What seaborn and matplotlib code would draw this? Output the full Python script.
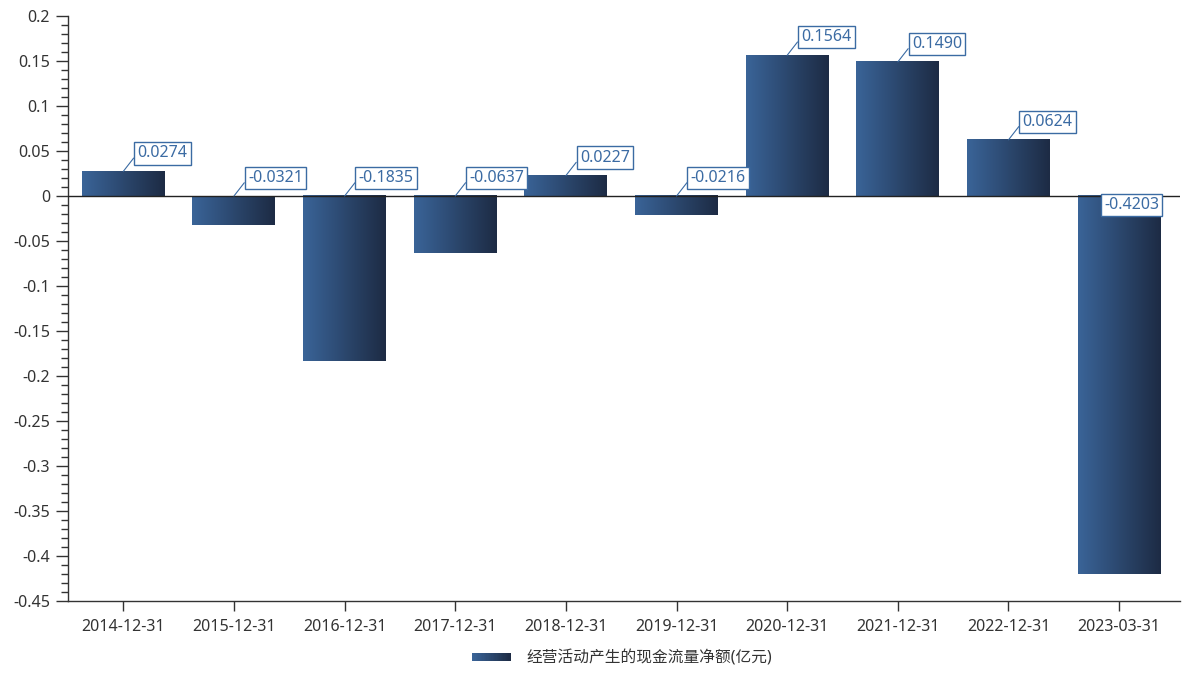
import numpy as np
import pandas as pd
import matplotlib
matplotlib.use("Agg")
import matplotlib.pyplot as plt
import seaborn as sns
from matplotlib.colors import LinearSegmentedColormap
from matplotlib.legend_handler import HandlerBase
from matplotlib.patches import Rectangle, Patch
from matplotlib.ticker import MultipleLocator

dates = ["2014-12-31", "2015-12-31", "2016-12-31", "2017-12-31", "2018-12-31",
         "2019-12-31", "2020-12-31", "2021-12-31", "2022-12-31", "2023-03-31"]
values = [0.0274, -0.0321, -0.1835, -0.0637, 0.0227, -0.0216, 0.1564, 0.1490, 0.0624, -0.4203]
series_name = "经营活动产生的现金流量净额(亿元)"

sns.set_theme(style="white")
plt.rcParams["font.family"] = ["Noto Sans", "Noto Sans CJK SC", "DejaVu Sans"]

LEFT_C = "#3a6498"
RIGHT_C = "#1d2b44"
LABEL_C = "#3b6ba3"
grad = LinearSegmentedColormap.from_list("bar_grad", [LEFT_C, RIGHT_C])

df = pd.DataFrame({"date": dates, "value": values})

fig = plt.figure(figsize=(12.01, 6.78), dpi=100)
ax = fig.add_axes([68 / 1201, 1 - 601 / 678, (1180 - 68) / 1201, (601 - 16) / 678])

sns.barplot(data=df, x="date", y="value", width=0.75, color=LEFT_C, ax=ax)

# replace flat bars with left->right gradient
g = np.linspace(0, 1, 256).reshape(1, -1)
for p in ax.patches:
    x0, y0 = p.get_x(), p.get_y()
    w, h = p.get_width(), p.get_height()
    p.set_visible(False)
    ax.imshow(g, cmap=grad, aspect="auto", extent=(x0, x0 + w, min(y0, y0 + h), max(y0, y0 + h)),
              zorder=2, interpolation="bilinear")

ax.set_xlim(-0.5, len(dates) - 0.45)
ax.set_ylim(-0.45, 0.2)
ax.axhline(0, color="#222222", lw=1, zorder=3)

yt = np.round(np.arange(-0.45, 0.2001, 0.05), 2)
ax.yaxis.set_minor_locator(MultipleLocator(0.01))
ax.set_yticks(yt)
ax.set_yticklabels([("%g" % v) if abs(v) > 1e-9 else "0" for v in yt])
ax.tick_params(axis="y", which="major", length=9, width=1, color="#333333", left=True,
               labelsize=11.5, labelcolor="#333333", pad=4)
ax.tick_params(axis="y", which="minor", length=5, width=1, color="#333333", left=True)
ax.tick_params(axis="x", which="major", length=7, width=1, color="#333333", bottom=True,
               labelsize=11.5, labelcolor="#333333", pad=6)
ax.set_xlabel("")
ax.set_ylabel("")
for s in ["top", "right"]:
    ax.spines[s].set_visible(False)
for s in ["left", "bottom"]:
    ax.spines[s].set_color("#333333")
    ax.spines[s].set_linewidth(1)

# value labels
box = dict(boxstyle="square,pad=0.2", fc="white", ec=LABEL_C, lw=1)
for i, v in enumerate(values):
    anchor_y = max(v, 0)
    if i == len(values) - 1:
        ax.annotate(f"{v:.4f}", xy=(i, 0), xytext=(-15, -9), textcoords="offset pixels",
                    ha="left", va="center", fontsize=11.5, color=LABEL_C, zorder=5, bbox=box)
    else:
        ax.annotate(f"{v:.4f}", xy=(i, anchor_y), xytext=(14, 18), textcoords="offset pixels",
                    ha="left", va="center", fontsize=11.5, color=LABEL_C, zorder=5, bbox=box,
                    arrowprops=dict(arrowstyle="-", color=LABEL_C, lw=0.8, shrinkA=0, shrinkB=0,
                                    relpos=(0, 0.5)))


class GradientHandler(HandlerBase):
    def create_artists(self, legend, orig_handle, xdescent, ydescent, width, height, fontsize, trans):
        n = 30
        arts = []
        for k in range(n):
            r = Rectangle((xdescent + width * k / n, ydescent + height * 0.1), width / n + 0.3,
                          height * 0.7, facecolor=grad(k / (n - 1)), edgecolor="none", transform=trans)
            arts.append(r)
        return arts


handle = Patch(facecolor=LEFT_C)
fig.legend([handle], [series_name], handler_map={Patch: GradientHandler()},
           loc="center", bbox_to_anchor=(0.518, 1 - 658 / 678), frameon=False,
           fontsize=11.3, handlelength=2.5, handletextpad=1.0, labelcolor="#333333")

fig.savefig("out.png", dpi=100)
